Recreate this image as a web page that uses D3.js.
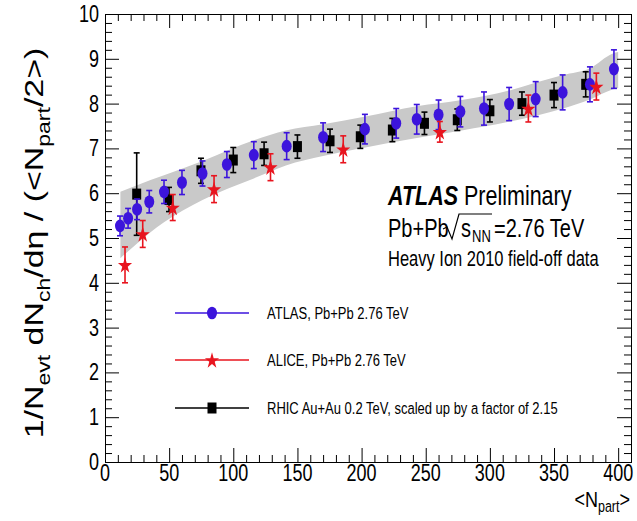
<!DOCTYPE html>
<html>
<head>
<meta charset="utf-8">
<script src="https://cdn.jsdelivr.net/npm/d3@7"></script>
<style>
  body { margin: 0; background: #fff; }
  text { font-family: "Liberation Sans", Arial, Helvetica, sans-serif; fill: #000; }
</style>
</head>
<body>
<svg id="chart" width="637" height="521"></svg>
<script>
const svg = d3.select("#chart");

// ATLAS Pb+Pb 2.76 TeV
const atlasX = [11.7, 18, 25, 34.5, 46, 60, 76, 95, 116, 141.6, 170, 202.6, 227, 243, 260, 277, 295.4, 315, 335.7, 356.7, 378, 396.7];
const atlasY = [5.27, 5.44, 5.64, 5.81, 6.03, 6.24, 6.44, 6.64, 6.85, 7.05, 7.25, 7.43, 7.56, 7.65, 7.75, 7.82, 7.89, 7.99, 8.10, 8.25, 8.43, 8.77];
const atlasErr = [0.22, 0.22, 0.23, 0.25, 0.26, 0.27, 0.28, 0.29, 0.30, 0.30, 0.32, 0.33, 0.33, 0.33, 0.33, 0.34, 0.37, 0.37, 0.39, 0.39, 0.39, 0.43];

// systematic band around ATLAS
const bandX  = [12, 25, 46, 76, 116, 141, 170, 203, 243, 278, 316, 336, 357, 378, 396, 400];
const bandHi = [6.03, 6.18, 6.40, 6.72, 7.18, 7.40, 7.54, 7.71, 7.94, 8.08, 8.30, 8.47, 8.64, 8.79, 9.12, 9.15];
const bandLo = [4.55, 4.88, 5.35, 5.85, 6.33, 6.62, 6.83, 7.02, 7.23, 7.40, 7.60, 7.73, 7.89, 8.09, 8.32, 8.35];

// ALICE Pb+Pb 2.76 TeV
const aliceX = [15.6, 29.4, 52.8, 85, 129, 185.7, 261, 330, 383];
const aliceY = [4.40, 5.09, 5.68, 6.09, 6.58, 6.98, 7.37, 7.89, 8.38];
const aliceErr = [0.40, 0.30, 0.29, 0.30, 0.30, 0.30, 0.23, 0.30, 0.30];

// RHIC Au+Au 0.2 TeV x 2.15
const rhicX = [24.7, 49.9, 74.8, 100, 124, 150, 175.4, 199, 224, 249, 274.6, 300, 325, 350, 374.7];
const rhicY = [5.98, 5.86, 6.50, 6.74, 6.88, 7.04, 7.17, 7.26, 7.41, 7.56, 7.64, 7.84, 8.00, 8.19, 8.43];
const rhicErr = [0.92, 0.27, 0.28, 0.28, 0.26, 0.26, 0.26, 0.26, 0.26, 0.25, 0.24, 0.25, 0.26, 0.28, 0.28];

const xTicks = [0, 50, 100, 150, 200, 250, 300, 350, 400];
const yTicks = [0, 1, 2, 3, 4, 5, 6, 7, 8, 9, 10];

const legendLabels = ["ATLAS, Pb+Pb 2.76 TeV", "ALICE, Pb+Pb 2.76 TeV", "RHIC Au+Au 0.2 TeV, scaled up by a factor of 2.15"];

const marginLeft = 105, marginRight = 6, marginTop = 14, marginBottom = 59;
const width = 637, height = 521;
const BLUE = "#3c14dc", RED = "#e8141e", BLACK = "#000";

const x = d3.scaleLinear().domain([0, 410]).range([marginLeft, width - marginRight]);
const y = d3.scaleLinear().domain([0, 10]).range([height - marginBottom, marginTop]);

const zip = (xs, ys, es) => xs.map((v, i) => ({x: v, y: ys[i], e: es ? es[i] : 0}));

// text squeezed like the ROOT output (taller than wide)
function sText(g, px, py, str, size, anchor) {
  return g.append("text")
    .attr("transform", `translate(${px},${py}) scale(1,1.3)`)
    .attr("font-size", size)
    .attr("text-anchor", anchor || "start")
    .text(str);
}

// band
const band = bandX.map((v, i) => ({x: v, lo: bandLo[i], hi: bandHi[i]}));
svg.append("path")
  .datum(band)
  .attr("fill", "#c9c9c9")
  .attr("d", d3.area().curve(d3.curveMonotoneX)
    .x(d => x(d.x)).y0(d => y(d.lo)).y1(d => y(d.hi)));

// axes: ticks inward on all four sides
const xMinor = d3.range(0, 411, 10).filter(v => v % 50 !== 0);
const yMinor = d3.range(0, 50).map(v => v * 0.2).filter(v => Math.abs(v - Math.round(v)) > 1e-6);

function axisPair(axisFn, scale, major, minor, tr) {
  const g = svg.append("g").attr("transform", tr);
  g.call(axisFn(scale).tickValues(major).tickSize(-14).tickFormat(""));
  g.append("g").call(axisFn(scale).tickValues(minor).tickSize(-7).tickFormat(""));
  g.selectAll(".domain").attr("stroke", "#000");
  g.selectAll("line").attr("stroke", "#000");
  return g;
}
axisPair(d3.axisBottom, x, xTicks, xMinor, `translate(0,${y(0)})`);
axisPair(d3.axisTop, x, xTicks, xMinor, `translate(0,${y(10)})`);
axisPair(d3.axisLeft, y, yTicks, yMinor, `translate(${x(0)},0)`);
axisPair(d3.axisRight, y, yTicks, yMinor, `translate(${x(410)},0)`);

// tick labels
const labels = svg.append("g");
xTicks.forEach(v => sText(labels, x(v), y(0) + 19, String(v), 18, "middle"));
yTicks.forEach(v => sText(labels, x(0) - 6, y(v) + 8, String(v), 18, "end"));

// error bars + markers
function errorBars(data, color, cap) {
  const g = svg.append("g").attr("stroke", color).attr("stroke-width", 1.6);
  g.selectAll("line.v").data(data).join("line")
    .attr("x1", d => x(d.x)).attr("x2", d => x(d.x))
    .attr("y1", d => y(d.y - d.e)).attr("y2", d => y(d.y + d.e));
  [-1, 1].forEach(s => {
    g.selectAll(null).data(data).join("line")
      .attr("x1", d => x(d.x) - cap).attr("x2", d => x(d.x) + cap)
      .attr("y1", d => y(d.y + s * d.e)).attr("y2", d => y(d.y + s * d.e));
  });
}

const starPath = d3.symbol().type(d3.symbolStar).size(62)();

function drawCircle(g, px, py) {
  g.append("ellipse").attr("cx", px).attr("cy", py).attr("rx", 5).attr("ry", 6.3).attr("fill", BLUE);
}
function drawSquare(g, px, py) {
  g.append("rect").attr("x", px - 4.5).attr("y", py - 5.5).attr("width", 9).attr("height", 11).attr("fill", BLACK);
}
function drawStar(g, px, py) {
  g.append("path").attr("d", starPath)
    .attr("transform", `translate(${px},${py + 0.8}) scale(1,1.15)`)
    .attr("fill", RED);
}

const rhic = zip(rhicX, rhicY, rhicErr);
const atlas = zip(atlasX, atlasY, atlasErr);
const alice = zip(aliceX, aliceY, aliceErr);

errorBars(rhic, BLACK, 3);
const gR = svg.append("g");
rhic.forEach(d => drawSquare(gR, x(d.x), y(d.y)));

errorBars(atlas, BLUE, 3);
const gA = svg.append("g");
atlas.forEach(d => drawCircle(gA, x(d.x), y(d.y)));

errorBars(alice, RED, 3);
const gL = svg.append("g");
alice.forEach(d => drawStar(gL, x(d.x), y(d.y)));

// legend
const leg = svg.append("g");
const legRows = [313, 360, 408];
const legColors = [BLUE, RED, BLACK];
const legDraw = [drawCircle, drawStar, drawSquare];
legRows.forEach((ry, i) => {
  leg.append("line").attr("x1", 175).attr("x2", 249).attr("y1", ry).attr("y2", ry)
    .attr("stroke", legColors[i]).attr("stroke-width", 1.3);
  legDraw[i](leg, 212, ry);
  sText(leg, 267, ry + 6, legendLabels[i], 13);
});

// annotation
const ann = svg.append("g");
const t1 = ann.append("text").attr("transform", "translate(388,205) scale(1,1.3)").attr("font-size", 21.5);
t1.append("tspan").attr("font-weight", "bold").attr("font-style", "italic").text("ATLAS");
t1.append("tspan").text(" Preliminary");

sText(ann, 388, 237, "Pb+Pb", 20);
ann.append("path")
  .attr("d", "M443,229 L447,227 L452,239 L459,214 L492,214")
  .attr("fill", "none").attr("stroke", "#000").attr("stroke-width", 1.2);
sText(ann, 461, 237, "s", 20);
sText(ann, 472, 242, "NN", 13);
sText(ann, 494, 237, "=2.76 TeV", 20);
sText(ann, 388, 266, "Heavy Ion 2010 field-off data", 16.5);

// axis titles
const xt = svg.append("text").attr("transform", "translate(630,507) scale(1,1.25)")
  .attr("font-size", 18).attr("text-anchor", "end");
xt.append("tspan").text("<N");
xt.append("tspan").attr("font-size", 12.5).attr("dy", 4).text("part");
xt.append("tspan").attr("dy", -4).text(">");

const yt = svg.append("text").attr("transform", "translate(43,243) rotate(-90) scale(1.28,1)")
  .attr("font-size", 26.5).attr("text-anchor", "middle");
yt.append("tspan").text("1/N");
yt.append("tspan").attr("font-size", 18).attr("dy", 7).text("evt");
yt.append("tspan").attr("dy", -7).text(" dN");
yt.append("tspan").attr("font-size", 18).attr("dy", 7).text("ch");
yt.append("tspan").attr("dy", -7).text("/d\u03b7 / (<N");
yt.append("tspan").attr("font-size", 18).attr("dy", 7).text("part");
yt.append("tspan").attr("dy", -7).text("/2>)");
</script>
</body>
</html>
